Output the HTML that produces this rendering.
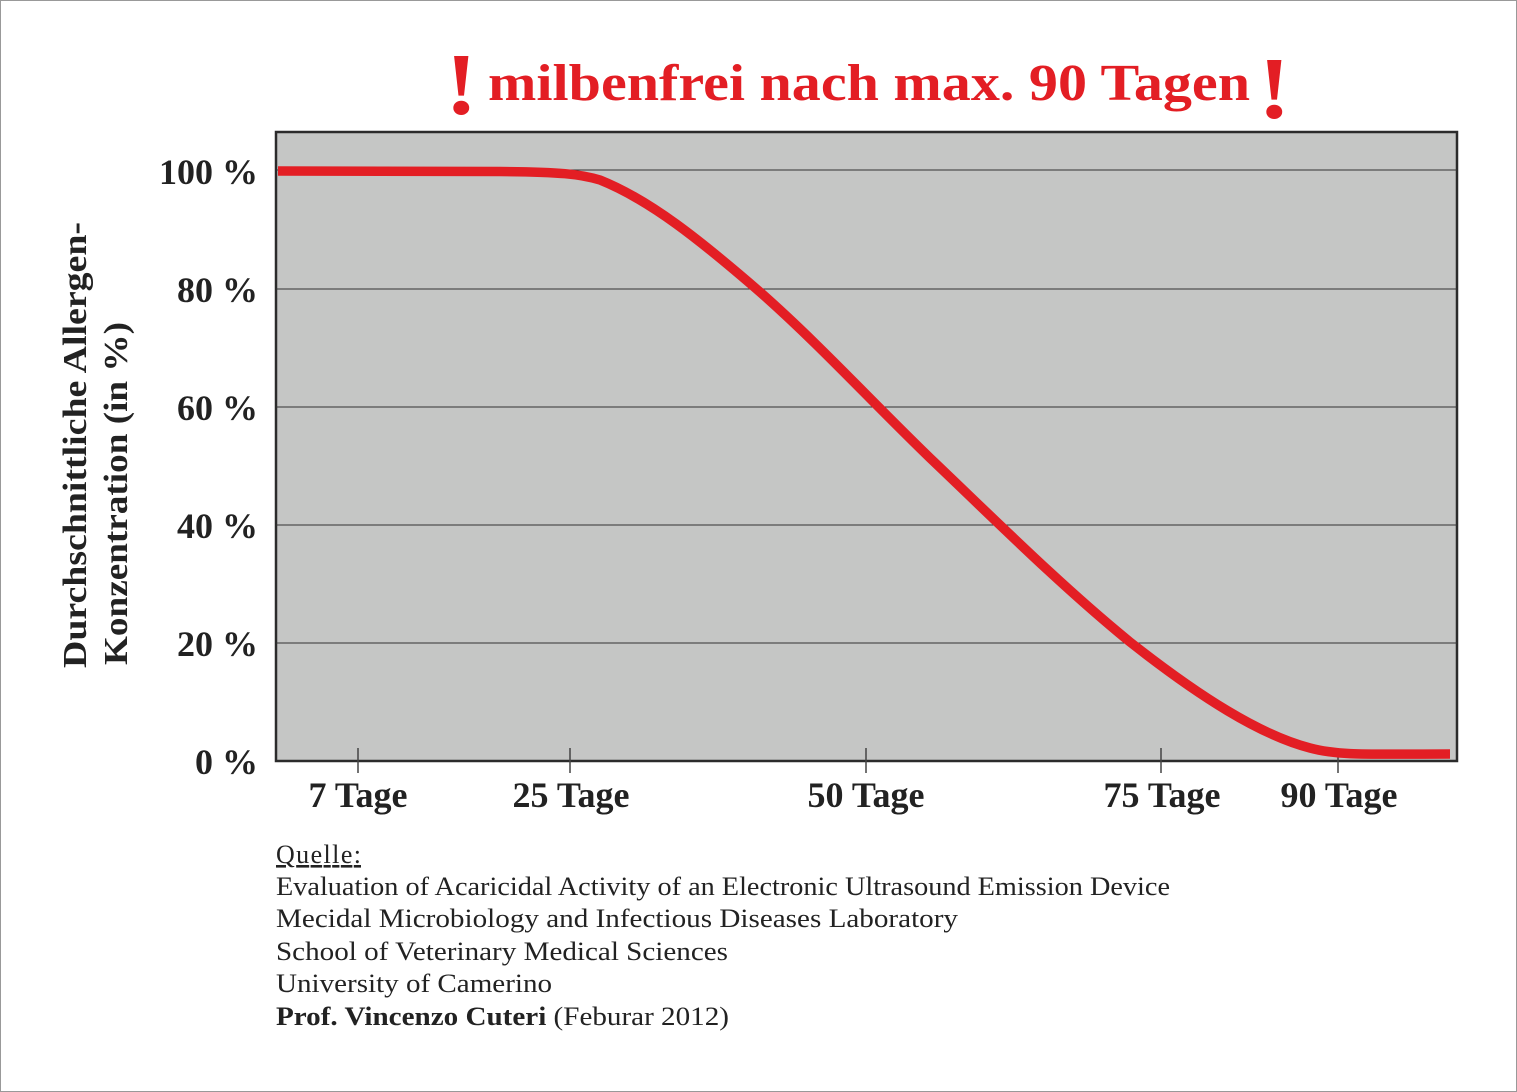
<!DOCTYPE html>
<html><head><style>
body{margin:0;background:#fff;}
svg{display:block}
</style></head><body>
<svg width="1517" height="1092" viewBox="0 0 1517 1092" xmlns="http://www.w3.org/2000/svg" font-family="Liberation Serif, serif">
<rect x="0.5" y="0.5" width="1516" height="1091" fill="#fff" stroke="#999"/>
<text transform="translate(445,114) scale(1.4,1.25)" font-size="70" font-weight="bold" fill="#e31e24">!</text>
<text x="488" y="100" font-size="52" font-weight="bold" fill="#e31e24" textLength="762" lengthAdjust="spacingAndGlyphs">milbenfrei nach max. 90 Tagen</text>
<text transform="translate(1258,118) scale(1.4,1.25)" font-size="70" font-weight="bold" fill="#e31e24">!</text>
<rect x="276" y="132" width="1181" height="629" fill="#c5c6c5" stroke="#2b2b2b" stroke-width="2.5"/>
<g stroke="#333" stroke-width="1">
<line x1="276" y1="170" x2="1457" y2="170"/>
<line x1="276" y1="289" x2="1457" y2="289"/>
<line x1="276" y1="407" x2="1457" y2="407"/>
<line x1="276" y1="525" x2="1457" y2="525"/>
<line x1="276" y1="643" x2="1457" y2="643"/>
</g>
<g stroke="#444" stroke-width="1.5">
<line x1="358" y1="748" x2="358" y2="773"/>
<line x1="570" y1="748" x2="570" y2="773"/>
<line x1="866" y1="748" x2="866" y2="773"/>
<line x1="1161" y1="748" x2="1161" y2="773"/>
<line x1="1338" y1="748" x2="1338" y2="773"/>
</g>
<path d="M278,171 L500,171.5 C560,172 580,174 600,180 C650,200 700,240 760,292 C820,345 870,400 930,458 C990,515 1060,585 1130,642 C1200,697 1260,735 1310,748 C1340,756 1370,754 1450,754" fill="none" stroke="#e31e24" stroke-width="9.5" stroke-linejoin="round"/>
<g font-size="36" font-weight="bold" fill="#222" text-anchor="end">
<text x="258" y="184">100 %</text>
<text x="258" y="302">80 %</text>
<text x="258" y="420">60 %</text>
<text x="258" y="538">40 %</text>
<text x="258" y="656">20 %</text>
<text x="258" y="774">0 %</text>
</g>
<g font-size="36" font-weight="bold" fill="#222" text-anchor="middle">
<text x="358" y="807">7 Tage</text>
<text x="571" y="807">25 Tage</text>
<text x="866" y="807">50 Tage</text>
<text x="1162" y="807">75 Tage</text>
<text x="1339" y="807">90 Tage</text>
</g>
<g font-size="34" font-weight="bold" fill="#222">
<text transform="translate(86,668) rotate(-90)" textLength="446" lengthAdjust="spacingAndGlyphs">Durchschnittliche Allergen-</text>
<text transform="translate(127,665) rotate(-90)" textLength="343" lengthAdjust="spacingAndGlyphs">Konzentration (in %)</text>
</g>
<g font-size="26" fill="#222" lengthAdjust="spacingAndGlyphs">
<text x="276" y="863" text-decoration="underline" textLength="85">Quelle:</text>
<text x="276" y="895" textLength="894" lengthAdjust="spacingAndGlyphs">Evaluation of Acaricidal Activity of an Electronic Ultrasound Emission Device</text>
<text x="276" y="927" textLength="682" lengthAdjust="spacingAndGlyphs">Mecidal Microbiology and Infectious Diseases Laboratory</text>
<text x="276" y="960" textLength="452" lengthAdjust="spacingAndGlyphs">School of Veterinary Medical Sciences</text>
<text x="276" y="992" textLength="276" lengthAdjust="spacingAndGlyphs">University of Camerino</text>
<text x="276" y="1025" textLength="453" lengthAdjust="spacingAndGlyphs"><tspan font-weight="bold">Prof. Vincenzo Cuteri</tspan> (Feburar 2012)</text>
</g>
</svg>
</body></html>
